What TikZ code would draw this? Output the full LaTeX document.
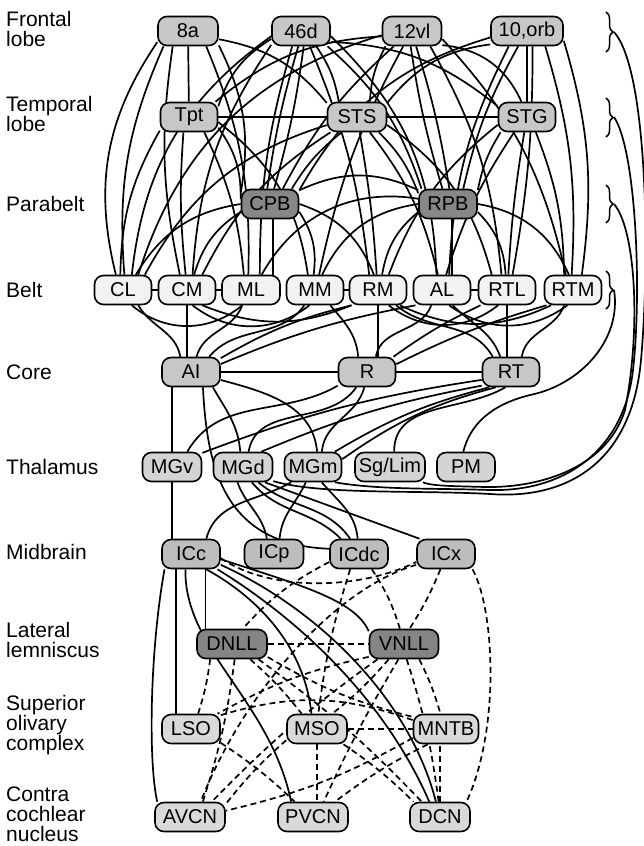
\documentclass[tikz,border=0pt]{standalone}
\usepackage{fontspec}
\setmainfont{Liberation Sans}
\usetikzlibrary{decorations.pathreplacing,backgrounds}

\tikzset{
  area/.style={draw=black, line width=1.6pt, rounded corners=9pt, minimum width=57pt,
    minimum height=29pt, inner xsep=3pt, inner ysep=0pt, font=\fontsize{20}{20}\selectfont},
  ctx/.style={area, fill=black!22},
  para/.style={area, fill=black!47},
  beltn/.style={area, fill=black!5},
  corn/.style={area, fill=black!22},
  thal/.style={area, fill=black!17},
  midn/.style={area, fill=black!26},
  lemn/.style={area, fill=black!48},
  lown/.style={area, fill=black!15},
  link/.style={line width=1.7pt},
  dlink/.style={line width=1.7pt, dash pattern=on 6pt off 4pt},
  lab/.style={anchor=west, align=left, inner sep=0pt, font=\fontsize{21}{20}\selectfont},
  bracket/.style={line width=1.5pt, decorate, decoration={brace, amplitude=7pt}}
}

\begin{document}
\begin{tikzpicture}[x=1pt, y=-1pt]
\useasboundingbox (0,0) rectangle (644,846);

% level labels
\node[lab] (lfront) at (6,29) {Frontal\\lobe};
\node[lab] (ltemp) at (6,114) {Temporal\\lobe};
\node[lab] (lpara) at (6,204) {Parabelt};
\node[lab] (lbelt) at (6,290) {Belt};
\node[lab] (lcore) at (6,372) {Core};
\node[lab] (lthal) at (6,467) {Thalamus};
\node[lab] (lmid) at (6,552) {Midbrain};
\node[lab] (lll) at (6,640) {Lateral\\lemniscus};
\node[lab] (lsoc) at (6,725) {Superior\\olivary\\complex};
\node[lab] (lcn) at (6,814) {Contra\\cochlear\\nucleus};

% frontal lobe
\node[ctx, minimum width=60pt] (f8a) at (188,31) {8a};
\node[ctx, minimum width=58pt] (f46) at (301,31) {46d};
\node[ctx, minimum width=59pt] (f12) at (412,31) {12vl};
\node[ctx, minimum width=72pt] (forb) at (527,31) {10,orb};
% temporal lobe
\node[ctx] (tpt) at (189,117) {Tpt};
\node[ctx, minimum width=59pt] (sts) at (357,117) {STS};
\node[ctx] (stg) at (527,117) {STG};
% parabelt
\node[para] (cpb) at (270,204) {CPB};
\node[para, minimum width=58pt] (rpb) at (448,204) {RPB};
% belt
\node[beltn] (cl) at (123,290) {CL};
\node[beltn] (cm) at (187,290) {CM};
\node[beltn, minimum width=58pt] (ml) at (251,290) {ML};
\node[beltn] (mm) at (315,290) {MM};
\node[beltn] (rm) at (378,290) {RM};
\node[beltn] (al) at (442,290) {AL};
\node[beltn] (rtl) at (507,290) {RTL};
\node[beltn] (rtm) at (573,290) {RTM};
% core
\node[corn, minimum width=58pt] (ai) at (191,372) {AI};
\node[corn] (r) at (367,372) {R};
\node[corn] (rt) at (511,372) {RT};
% thalamus
\node[thal, minimum width=59pt] (mgv) at (172,467) {MGv};
\node[thal, minimum width=59pt] (mgd) at (243,467) {MGd};
\node[thal] (mgm) at (313,467) {MGm};
\node[thal, minimum width=70pt] (sgl) at (390,467) {Sg/Lim};
\node[thal, minimum width=58pt] (pm) at (466,467) {PM};
% midbrain
\node[midn, minimum width=58pt] (icc) at (191,554) {ICc};
\node[midn, minimum width=59pt] (icp) at (274,554) {ICp};
\node[midn, minimum width=58pt] (icdc) at (359,554) {ICdc};
\node[midn, minimum width=58pt] (icx) at (446,554) {ICx};
% lateral lemniscus
\node[lemn, minimum width=70pt] (dnll) at (232,644) {DNLL};
\node[lemn, minimum width=69pt] (vnll) at (404,644) {VNLL};
% superior olivary complex
\node[lown, minimum width=58pt] (lso) at (191,729) {LSO};
\node[lown, minimum width=60pt] (mso) at (317,729) {MSO};
\node[lown, minimum width=65pt] (mntb) at (446,729) {MNTB};
% cochlear nucleus
\node[lown, minimum width=70pt] (avcn) at (190,817) {AVCN};
\node[lown, minimum width=70pt] (pvcn) at (313,817) {PVCN};
\node[lown, minimum width=60pt] (dcn) at (440,817) {DCN};

% braces grouping the cortical levels
\coordinate (fbt) at (614,32);
\coordinate (tbt) at (614,117);
\coordinate (pbt) at (614,204);
\coordinate (bbt) at (614,290);
\draw[bracket] (606,12) -- (606,52);
\draw[bracket] (606,98) -- (606,137);
\draw[bracket] (606,185) -- (606,223);
\draw[bracket] (606,271) -- (606,309);

\begin{pgfonlayer}{background}
% frontal <-> temporal
\draw[link] (f8a) -- (tpt);
\draw[link] (forb) -- (stg);
\draw[link] (tpt) -- (sts);
\draw[link] (sts) -- (stg);
\draw[link] (f8a.-15) to[bend left=20] (sts.155);
\draw[link] (f46.-165) to[bend right=20] (tpt.20);
\draw[link] (f12.-170) to[bend right=18] (tpt.30);
\draw[link] (f46.-20) to[bend left=18] (stg.160);
\draw[link] (f12.-25) to[bend left=30] (stg.110);
\draw[link] (forb.-160) to[bend right=22] (sts.25);
\draw[link] (f46.-45) to[bend left=12] (sts.140);
\draw[link] (f12.-150) to[bend right=12] (sts.50);

% frontal -> parabelt and belt
\draw[link] (f8a.-160) to[bend right=24] (cl.115);
\draw[link] (f8a.-148) to[bend right=14] (cl.85);
\draw[link] (f8a.-135) to[bend right=10] (cm.115);
\draw[link] (f8a.-40) to[bend left=12] (ml.100);
\draw[link] (f8a.-25) to[bend left=18] (cpb.160);
\draw[link] (f46.-170) to[bend right=24] (cl.60);
\draw[link] (f46.-155) to[bend right=15] (cm.70);
\draw[link] (f46.-120) to[bend right=8] (ml.60);
\draw[link] (f46.-100) to[bend right=4] (cpb.100);
\draw[link] (f46.-80) to[bend left=4] (cpb.75);
\draw[link] (f46.-60) to[bend left=8] (rm.120);
\draw[link] (f46.-30) to[bend left=15] (rpb.150);
\draw[link] (f46.-10) to[bend left=22] (al.110);
\draw[link] (f12.-172) to[bend right=28] (cl.45);
\draw[link] (f12.-140) to[bend right=10] (cpb.50);
\draw[link] (f12.-120) to[bend right=8] (mm.75);
\draw[link] (f12.-95) to[bend right=4] (rpb.110);
\draw[link] (f12.-75) to[bend left=4] (rpb.85);
\draw[link] (f12.-40) to[bend left=12] (rtl.110);
\draw[link] (f12.-15) to[bend left=15] (rtm.115);
\draw[link] (forb.-170) to[bend right=22] (cpb.25);
\draw[link] (forb.-140) to[bend right=12] (al.65);
\draw[link] (forb.-120) to[bend right=8] (rpb.45);
\draw[link] (forb.-70) to[bend left=5] (rtl.70);
\draw[link] (forb.-40) to[bend left=10] (rtm.95);
\draw[link] (forb.-15) to[bend left=12] (rtm.60);

% temporal -> parabelt and belt
\draw[link] (tpt.-155) to[bend right=14] (cl.100);
\draw[link] (tpt.-110) to[bend right=5] (cm.95);
\draw[link] (tpt.-45) to[bend left=10] (ml.115);
\draw[link] (tpt.-20) to[bend left=18] (cpb.170);
\draw[link] (tpt.-10) to[bend left=22] (mm.115);
\draw[link] (sts.-165) to[bend right=22] (cl.35);
\draw[link] (sts.-150) to[bend right=15] (cm.45);
\draw[link] (sts.-135) to[bend right=10] (cpb.35);
\draw[link] (sts.-80) to[bend left=3] (rm.95);
\draw[link] (sts.-50) to[bend left=12] (al.105);
\draw[link] (sts.-35) to[bend left=12] (rpb.160);
\draw[link] (sts.-15) to[bend left=20] (rtl.135);
\draw[link] (stg.-165) to[bend right=15] (rm.55);
\draw[link] (stg.-150) to[bend right=10] (rpb.25);
\draw[link] (stg.-130) to[bend right=8] (al.75);
\draw[link] (stg.-100) to[bend right=3] (rtl.85);
\draw[link] (stg.-60) to[bend left=10] (rtm.120);

% parabelt -> belt
\draw[link] (cpb.-80) -- (cpb.-80 |- ml.north);
\draw[link] (cpb.180) to[bend right=25] (cl.50);
\draw[link] (cpb.-165) to[bend right=20] (cm.65);
\draw[link] (cpb.-15) to[bend left=20] (mm.95);
\draw[link] (cpb.0) to[bend left=25] (rm.105);
\draw[link] (cpb.25) to[bend left=25] (rpb.155);
\draw[link] (rpb.-75) -- (rpb.-75 |- al.north);
\draw[link] (rpb.-165) to[bend right=20] (rm.75);
\draw[link] (rpb.180) to[bend right=28] (mm.65);
\draw[link] (rpb.170) to[bend right=35] (ml.55);
\draw[link] (rpb.-15) to[bend left=20] (rtl.95);
\draw[link] (rpb.0) to[bend left=28] (rtm.105);

% within the belt
\draw[link] (cl) -- (cm);
\draw[link] (cm) -- (ml);
\draw[link] (mm) -- (rm);
\draw[link] (al) -- (rtl);
\draw[link] (cl.-60) to[bend right=40] (ml.-120);
\draw[link] (cm.-70) to[bend right=38] (mm.-110);
\draw[link] (cm.-45) to[bend right=22] (rm.-150);
\draw[link] (rm.-55) to[bend right=38] (rtl.-120);
\draw[link] (al.-65) to[bend right=36] (rtm.-110);
\draw[link] (rm.-35) to[bend right=25] (rtm.-145);

% belt -> core
\draw[link] (cl.-45) to[out=-60,in=100] (ai.125);
\draw[link] (cm.south) -- (cm.south |- ai.north);
\draw[link] (ml.-120) to[out=-110,in=75] (ai.70);
\draw[link] (mm.-125) to[out=-125,in=50] (ai.40);
\draw[link] (rm.-150) to[bend right=8] (ai.25);
\draw[link] (al.-150) to[bend right=6] (ai.15);
\draw[link] (rm.south) -- (rm.south |- r.north);
\draw[link] (mm.-45) to[out=-50,in=95] (r.120);
\draw[link] (al.-125) to[out=-110,in=80] (r.60);
\draw[link] (rtl.-150) to[bend right=5] (r.30);
\draw[link] (rtm.-150) to[bend right=5] (r.15);
\draw[link] (rtl.south) -- (rtl.south |- rt.north);
\draw[link] (rtm.-120) to[out=-110,in=80] (rt.55);
\draw[link] (al.-55) to[out=-45,in=110] (rt.125);
\draw[link] (rm.-40) to[out=-40,in=120] (rt.140);
\draw[link] (ai) -- (r);
\draw[link] (r) -- (rt);

% core -> thalamus
\draw[link] (mgv.north) -- (mgv.north |- ai.south);
\draw[link] (ai.-35) to[out=-60,in=95] (mgd.100);
\draw[link] (ai.-15) to[out=-15,in=95] (mgm.75);
\draw[link] (ai.-52) .. controls (207,470) and (225,545) .. (icdc.170);
\draw[link] (r.-155) to[out=-150,in=60] (mgv.45);
\draw[link] (r.-125) to[out=-125,in=80] (mgd.70);
\draw[link] (r.-100) to[out=-105,in=85] (mgm.60);
\draw[link] (rt.-165) to[bend right=6] (mgv.25);
\draw[link] (rt.-155) to[bend right=6] (mgd.40);
\draw[link] (rt.-145) to[bend right=8] (mgm.35);
\draw[link] (rt.-135) to[bend right=10] (mgm.15);
\draw[link] (sgl.75) to[out=90,in=-150] (rt.-110);

% cortical levels -> thalamus
\draw[link] (fbt) .. controls (648,70) and (650,260) .. (641,360)
  .. controls (632,460) and (570,500) .. (490,494)
  .. controls (420,490) and (320,495) .. (mgd.-25);
\draw[link] (tbt) .. controls (636,150) and (642,290) .. (633,370)
  .. controls (624,450) and (565,492) .. (490,490)
  .. controls (430,488) and (380,490) .. (mgm.-35);
\draw[link] (pbt) .. controls (636,230) and (641,330) .. (625,410)
  .. controls (608,465) and (545,488) .. (485,487)
  .. controls (450,486) and (432,486) .. (sgl.-25);
\draw[link] (bbt) .. controls (622,340) and (580,385) .. (530,395)
  .. controls (490,405) and (470,425) .. (pm.100);

% thalamus -> midbrain
\draw[link] (mgv.south) -- (mgv.south |- icc.north);
\draw[link] (mgd.-110) to[out=-70,in=100] (icp.115);
\draw[link] (mgm.-115) to[out=-115,in=85] (icp.70);
\draw[link] (mgd.-60) to[out=-50,in=135] (icdc.140);
\draw[link] (mgd.-45) to[out=-40,in=125] (icdc.120);
\draw[link] (mgm.-60) to[out=-50,in=95] (icdc.95);
\draw[link] (mgm.-145) to[out=-150,in=75] (icc.45);
\draw[link] (mgd.-35) to[out=-20,in=160] (icx.150);

% midbrain -> brainstem, solid
\draw[link] (dnll.150) -- (dnll.150 |- icc.south);
\draw[link] (lso.135) -- (lso.135 |- icc.south);
\draw[link] (icc.-150) .. controls (150,650) and (148,760) .. (avcn.155);
\draw[link] (icc.-110) .. controls (184,650) and (270,700) .. (pvcn.145);
\draw[link] (icc.-45) .. controls (262,600) and (305,650) .. (mso.110);
\draw[link] (icc.-30) .. controls (300,620) and (385,700) .. (dcn.125);
\draw[link] (icc.-20) .. controls (320,610) and (410,700) .. (dcn.105);
\draw[link] (icc.-10) .. controls (300,585) and (355,600) .. (vnll.160);

% midbrain -> brainstem, dashed
\draw[dlink] (icc.-8) .. controls (270,592) and (360,590) .. (icx.-165);
\draw[dlink] (icdc.-165) to[bend right=10] (dnll.55);
\draw[dlink] (icdc.-120) to[bend right=5] (mso.85);
\draw[dlink] (icdc.-50) to[bend left=8] (vnll.105);
\draw[dlink] (icx.-110) to[bend left=5] (vnll.70);
\draw[dlink] (icx.-160) .. controls (330,590) and (240,700) .. (avcn.55);
\draw[dlink] (icx.-30) .. controls (495,610) and (500,730) .. (dcn.30);

% lemniscus, olivary complex and cochlear nucleus
\draw[dlink] (dnll) -- (vnll);
\draw[dlink] (dnll.-145) to[bend left=5] (lso.65);
\draw[dlink] (dnll.-80) to[bend left=5] (avcn.50);
\draw[dlink] (dnll.-40) to[bend left=5] (mso.135);
\draw[dlink] (dnll.-20) to[bend right=8] (mntb.160);
\draw[dlink] (dnll.-30) to[bend left=5] (dcn.140);
\draw[dlink] (vnll.-160) to[bend right=8] (lso.30);
\draw[dlink] (vnll.-150) to[bend right=5] (avcn.35);
\draw[dlink] (vnll.-135) to[bend left=5] (mso.45);
\draw[dlink] (vnll.-110) to[bend right=3] (pvcn.55);
\draw[dlink] (vnll.-80) to[bend left=5] (dcn.95);
\draw[dlink] (vnll.-45) to[bend left=5] (mntb.110);
\draw[dlink] (lso.25) to[bend left=18] (mntb.165);
\draw[dlink] (lso.-25) to[bend left=5] (pvcn.140);
\draw[dlink] (mso) -- (mntb);
\draw[dlink] (mso.-160) to[bend right=5] (avcn.20);
\draw[dlink] (mso.south) -- (mso.south |- pvcn.north);
\draw[dlink] (mso.-30) to[bend left=5] (dcn.150);
\draw[dlink] (mntb.-165) to[bend left=8] (avcn.10);
\draw[dlink] (mntb.-140) to[bend right=5] (pvcn.35);
\draw[dlink] (dcn.north) -- (dcn.north |- mntb.south);
\end{pgfonlayer}
\end{tikzpicture}
\end{document}
